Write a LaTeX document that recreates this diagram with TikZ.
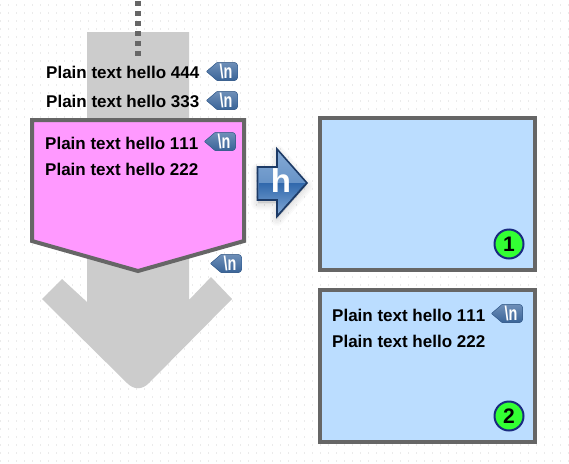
\documentclass[tikz,border=0pt]{standalone}
\usepackage{fontspec}
\setmainfont[RawFeature={-kern}]{Liberation Sans}
\usetikzlibrary{shadings}
\definecolor{edgegray}{HTML}{666666}
\definecolor{pinkfill}{HTML}{FF99FF}
\definecolor{bluefill}{HTML}{BBDDFF}
\definecolor{badgegreen}{HTML}{33FF33}
\definecolor{badgeline}{HTML}{1A2A80}
\definecolor{arrowgray}{HTML}{CCCCCC}
\definecolor{griddot}{HTML}{EBEBEB}
\definecolor{navyline}{HTML}{1C3A66}
\tikzset{
  x=1pt,y=-1pt,
  txt/.style={anchor=base west,inner sep=0pt,font=\fontsize{17}{17}\selectfont\bfseries,text=black},
  panel/.style={draw=edgegray,line width=4pt,fill=bluefill,line join=miter},
  numbadge/.style={circle,draw=badgeline,line width=2pt,fill=badgegreen,minimum size=29pt,inner sep=0pt,font=\fontsize{21}{21}\selectfont\bfseries},
  pics/nl/.style={code={
    \fill[top color=nltop,bottom color=nlbot,draw=nlbot,line width=0.5pt,rounded corners=0.5pt]
      (0.5,9.5) -- (11,0.5) [rounded corners=3pt]-- (31.5,0.5) -- (31.5,18.5) [rounded corners=0.5pt]-- (11,18.5) -- cycle;
    \node[text=white,inner sep=0pt,font=\fontsize{20}{20}\selectfont\bfseries,xscale=0.72] at (20,9) {\textbackslash n};
  }}
}
\definecolor{nltop}{HTML}{6E8FB8}
\definecolor{nlbot}{HTML}{3A6498}
\definecolor{harrowlight}{HTML}{86ABD6}
\definecolor{harrowmid}{HTML}{3068AC}
\definecolor{harrowlow}{HTML}{7FA6D4}
\begin{document}
\begin{tikzpicture}
\useasboundingbox (0,0) rectangle (569,463);
\fill[white] (0,0) rectangle (569,463);
% dotted background
\foreach \xx in {0,...,71}{\foreach \yy in {0,...,57}{
  \fill[griddot] ({\xx*8},{4+\yy*8}) rectangle ++(1,2);
}}
% big gray arrow
\fill[arrowgray] (87,32) -- (189,32) -- (189,300) -- (211,277) -- (232,299)
  -- (149,383) .. controls (142,390) and (134,390) .. (127,383)
  -- (42,299) -- (62,279) -- (87,302) -- cycle;
% dotted connector
\coordinate (dtop) at (138,1);
\coordinate (dbot) at (138,56);
\draw[edgegray,line width=6pt,dash pattern=on 5pt off 5pt] (dtop) -- (dbot);
% pink shape
\draw[draw=edgegray,line width=4pt,fill=pinkfill,line join=miter]
  (32,120) -- (244,120) -- (244,241) -- (138,271) -- (32,241) -- cycle;
% panels
\node[panel,minimum width=215pt,minimum height=152pt,inner sep=0pt] (p1) at (427.5,194) {};
\node[panel,minimum width=215pt,minimum height=152pt,inner sep=0pt] (p2) at (427.5,366) {};
\node[numbadge] (b1) at (509,244) {1};
\node[numbadge] (b2) at (509,416) {2};
% texts
\node[txt] (t444) at (46,78) {Plain text hello 444};
\node[txt] (t333) at (46,107) {Plain text hello 333};
\node[txt] (t111) at (45,149) {Plain text hello 111};
\node[txt] (t222) at (45,175) {Plain text hello 222};
\node[txt] (t111b) at (332,321) {Plain text hello 111};
\node[txt] (t222b) at (332,347) {Plain text hello 222};
% newline badges
\pic at (206,62) {nl};
\pic at (206,91) {nl};
\pic at (204,132) {nl};
\pic at (210,254) {nl};
\pic at (491,304) {nl};
% h arrow soft shadow
\foreach \w in {14,11,8,5,2}{
  \draw[black,opacity=0.018,line width=\w pt,line join=round,fill=black,fill opacity=0.018]
    (258,170) -- (277,170) -- (277,152) -- (306,186) -- (277,219) -- (277,203) -- (258,203) -- cycle;
}
% h arrow
\path[top color=harrowlight,bottom color=harrowmid!70!harrowlight]
  (257.5,167) -- (277,167) -- (277,149) -- (307,183) -- (277,216.5) -- (277,200) -- (257.5,200) -- cycle;
\fill[top color=harrowmid,bottom color=harrowlow]
  (259,183) -- (305.5,183) -- (278,214) -- (278,198.8) -- (259,198.8) -- cycle;
\draw[navyline,line width=1.6pt,line join=miter]
  (257.5,167) -- (277,167) -- (277,149) -- (307,183) -- (277,216.5) -- (277,200) -- (257.5,200) -- cycle;
\node[text=white,inner sep=0pt,font=\fontsize{33}{33}\selectfont\bfseries] (hh) at (281,181) {h};
\end{tikzpicture}
\end{document}
